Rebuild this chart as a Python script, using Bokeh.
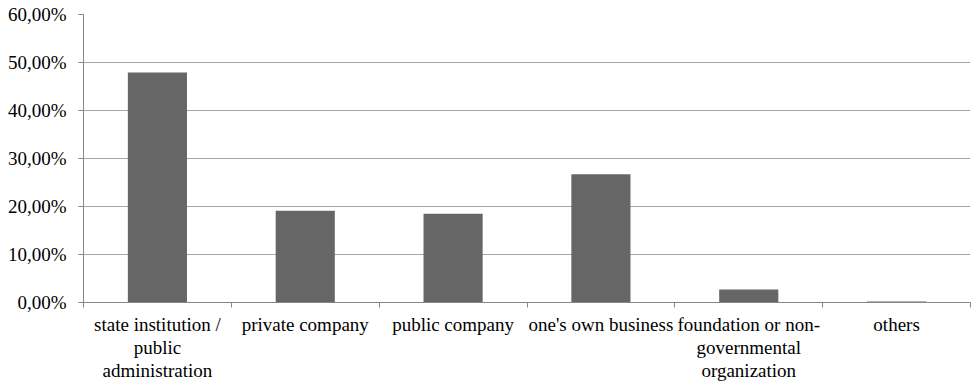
from bokeh.plotting import figure
from bokeh.models import Range1d, FixedTicker
from bokeh.embed import file_html
from bokeh.resources import INLINE

categories = [
    "state institution /\npublic\nadministration",
    "private company",
    "public company",
    "one's own business",
    "foundation or non-\ngovernmental\norganization",
    "others",
]
values = [47.9, 19.1, 18.5, 26.7, 2.7, 0.2]
y_ticks = [0, 10, 20, 30, 40, 50, 60]
y_tick_labels = ["0,00%", "10,00%", "20,00%", "30,00%", "40,00%", "50,00%", "60,00%"]

positions = [i + 0.5 for i in range(len(categories))]
boundaries = list(range(len(categories) + 1))

FONT = "Liberation Serif"

p = figure(width=971, height=382, output_backend="svg", toolbar_location=None,
           x_range=Range1d(0, len(categories)), y_range=Range1d(0, 60),
           min_border_left=83, min_border_right=1, min_border_top=14, min_border_bottom=80,
           frame_width=887, frame_height=288)
p.outline_line_color = None

p.vbar(x=positions, top=values, width=0.4, fill_color="#666666", line_color=None)

p.xaxis.ticker = FixedTicker(ticks=positions, minor_ticks=boundaries)
p.xaxis.major_label_overrides = {pos: lab for pos, lab in zip(positions, categories)}
p.xaxis.major_tick_line_color = None
p.xaxis.major_tick_out = 0
p.xaxis.major_tick_in = 0
p.xaxis.minor_tick_out = 5
p.xaxis.minor_tick_in = 0
p.xaxis.minor_tick_line_color = "#868686"
p.xaxis.axis_line_color = "#868686"
p.xaxis.major_label_text_font = FONT
p.xaxis.major_label_text_font_size = "19px"
p.xaxis.major_label_text_color = "black"
p.xaxis.major_label_text_line_height = 1.1
p.xaxis.major_label_standoff = 6

p.yaxis.ticker = FixedTicker(ticks=y_ticks, minor_ticks=[])
p.yaxis.major_label_overrides = {t: lab for t, lab in zip(y_ticks, y_tick_labels)}
p.yaxis.major_tick_out = 5
p.yaxis.major_tick_in = 0
p.yaxis.major_tick_line_color = "#868686"
p.yaxis.minor_tick_line_color = None
p.yaxis.axis_line_color = "#868686"
p.yaxis.major_label_text_font = FONT
p.yaxis.major_label_text_font_size = "19px"
p.yaxis.major_label_text_color = "black"
p.yaxis.major_label_standoff = 12

p.xgrid.grid_line_color = None
p.ygrid.grid_line_color = "#a6a6a6"
p.ygrid.ticker = FixedTicker(ticks=y_ticks)

open("out.html", "w").write(file_html(p, INLINE))
